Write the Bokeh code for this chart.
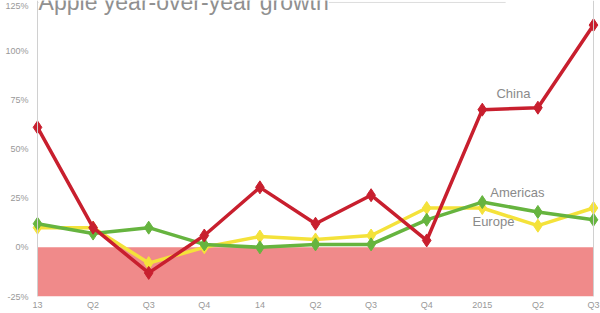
from bokeh.plotting import figure
from bokeh.models import Range1d, Span, Label, FixedTicker
from bokeh.core.properties import value
from bokeh.embed import file_html
from bokeh.resources import INLINE

quarters = ["13", "Q2", "Q3", "Q4", "14", "Q2", "Q3", "Q4", "2015", "Q2", "Q3"]
china = [61, 10, -13, 6, 30.5, 12, 26.5, 3.5, 70, 71, 113]
americas = [12, 7, 10, 1.5, 0, 1.5, 1.5, 14, 23, 18, 14]
europe = [10, 10, -8, 0, 5.5, 4, 6, 20, 20, 11, 20]
y_ticks = [-25, 0, 25, 50, 75, 100, 125]
series_names = ["China", "Americas", "Europe"]
label_x = [8.56, 8.63, 8.2]
label_y = [78, 28, 13]
title = "Apple year-over-year growth"

xs = list(range(len(quarters)))

p = figure(width=600, height=313, output_backend="svg", toolbar_location=None,
           x_range=Range1d(-0.126, 10.126), y_range=Range1d(-25, 125.5),
           min_border_left=30, min_border_right=0, min_border_top=0, min_border_bottom=17)
p.outline_line_color = None
p.background_fill_color = "white"
p.border_fill_color = "white"
p.xgrid.visible = False
p.ygrid.visible = False

# negative zone
p.quad(left=[0], right=[len(quarters) - 1], bottom=[y_ticks[0]], top=[0],
       fill_color="#f08a8a", line_color=None)

p.add_layout(Span(location=0, dimension="height", line_color="#d0d0d0", line_width=1))
p.add_layout(Span(location=len(quarters) - 1, dimension="height", line_color="#d0d0d0", line_width=1))
p.segment(x0=[0], y0=[124.5], x1=[8.42], y1=[124.5], line_color="#dddddd", line_width=1)

cols = {"Europe": "#f4e23a", "Americas": "#66b43f", "China": "#c81f2e"}
for name, data in [("Europe", europe), ("Americas", americas), ("China", china)]:
    p.line(xs, data, line_color=cols[name], line_width=3.5)
    p.scatter(xs, data, marker="diamond", size=13, fill_color=cols[name], line_color=cols[name])

p.text(x=label_x, y=label_y, text=series_names, text_color="#8a8a8a",
       text_font=value("Liberation Sans"), text_font_size="13px",
       text_align="center", text_baseline="middle")

p.add_layout(Label(x=0.02, y=124.5, text=title, text_color="#909090",
                   text_font="Liberation Sans", text_font_size="23px", text_baseline="alphabetic",
                   background_fill_color="white"))

for ax in (p.xaxis[0], p.yaxis[0]):
    ax.axis_line_color = None
    ax.major_tick_line_color = None
    ax.minor_tick_line_color = None
    ax.major_tick_out = 0
    ax.major_tick_in = 0
    ax.minor_tick_out = 0
    ax.major_label_text_color = "#999999"
    ax.major_label_text_font = "Liberation Sans"
    ax.major_label_text_font_size = "9px"

p.xaxis.ticker = FixedTicker(ticks=xs)
p.xaxis.major_label_overrides = {i: q for i, q in enumerate(quarters)}
p.xaxis.major_label_standoff = 3
p.yaxis.ticker = FixedTicker(ticks=y_ticks)
p.yaxis.major_label_overrides = {t: f"{t}%" for t in y_ticks}
p.yaxis.major_label_standoff = 2

open("out.html", "w").write(file_html(p, INLINE))
